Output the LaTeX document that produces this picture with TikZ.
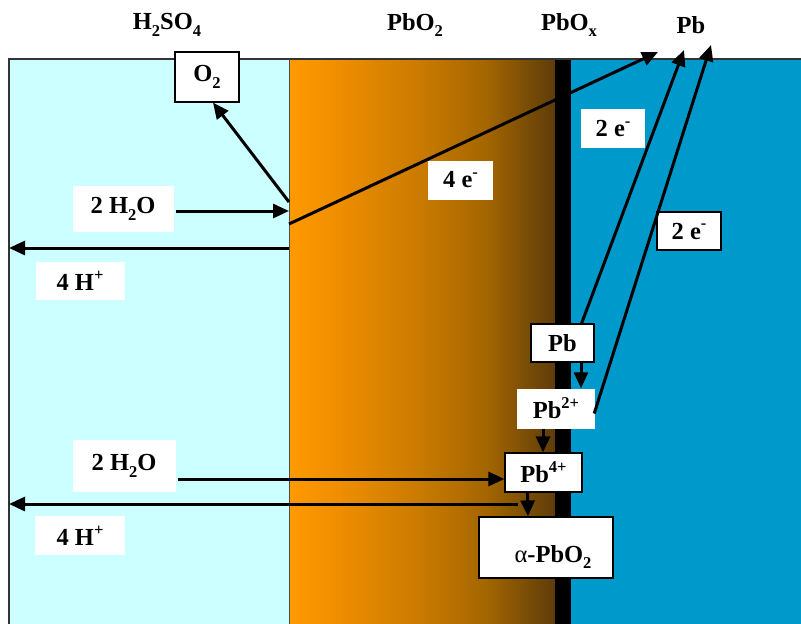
\documentclass[tikz,border=0pt]{standalone}
\usepackage{fontspec}
\setmainfont{Liberation Serif}
\usetikzlibrary{arrows.meta,calc}
\definecolor{acid}{HTML}{CCFFFF}
\definecolor{oxA}{HTML}{FF9900}
\definecolor{oxB}{HTML}{5E3C0A}
\definecolor{oxC}{HTML}{EE8E00}
\definecolor{oxD}{HTML}{C87A00}
\definecolor{oxE}{HTML}{A46600}
\definecolor{metal}{HTML}{0099CC}
\pgfdeclarehorizontalshading{oxsh}{100bp}{color(0bp)=(oxA); color(25bp)=(oxA); color(34.5bp)=(oxC); color(50bp)=(oxD); color(62bp)=(oxE); color(75bp)=(oxB); color(100bp)=(oxB)}
\newcommand{\lsub}[1]{\raisebox{-0.28em}{\fontsize{16.5}{16.5}\selectfont #1}}
\newcommand{\lsup}[1]{\raisebox{0.42em}{\fontsize{16.5}{16.5}\selectfont #1}}
\tikzset{
  lbl/.style={font=\fontsize{24.5}{28}\selectfont\bfseries, inner sep=0pt},
  wbox/.style={lbl, fill=white, minimum width=#1},
  bbox/.style={lbl, fill=white, draw=black, line width=1.2pt, minimum width=#1},
  arr/.style={line width=3pt, -{Triangle[length=16pt,width=14pt]}},
  ln/.style={line width=3pt}
}
\begin{document}
\begin{tikzpicture}[x=1pt,y=-1pt]
\useasboundingbox (0,0) rectangle (801,624);
\fill[white] (0,0) rectangle (801,624);
% regions
\fill[acid] (9,59) rectangle (289,624);
\shade[shading=oxsh] (289,59) rectangle (555,624);
\fill[black] (555,59) rectangle (571,624);
\fill[metal] (571,59) rectangle (801,624);
\draw[line width=1.2pt,black!80] (9,624) -- (9,59) -- (801,59);
\draw[line width=1pt,black!70] (289,59) -- (289,624);
% titles
\node[lbl] (tacid) at (167,25) {H\lsub{2}SO\lsub{4}};
\node[lbl] (tox) at (415,25) {PbO\lsub{2}};
\node[lbl] (tpbox) at (569,25) {PbO\lsub{x}};
\node[lbl] (tpb) at (691,25) {Pb};
% boxes
\node[bbox=64pt, minimum height=50pt] (o2) at (207,77) {O\lsub{2}};
\node[wbox=101pt, minimum height=46pt] (w1) at (123,209) {2 H\lsub{2}O};
\node[wbox=89pt, minimum height=38pt] (h1) at (80,281) {4 H\lsup{+}};
\node[wbox=65pt, minimum height=39pt] (e4) at (460.5,180) {4 e\lsup{-}};
\node[wbox=64pt, minimum height=39pt] (e2a) at (613,128.5) {2 e\lsup{-}};
\node[bbox=64pt, minimum height=38pt] (e2b) at (689,231) {2 e\lsup{-}};
\node[bbox=63pt, minimum height=38pt] (pb) at (562.5,343) {Pb};
\node[wbox=78pt, minimum height=40pt] (pb2) at (556,408.5) {Pb\lsup{2+}};
\node[bbox=77pt, minimum height=39pt] (pb4) at (543.5,472.5) {Pb\lsup{4+}};
\node[bbox=134pt, minimum height=61pt] (apb) at (546,547.5) {};
\node[lbl] (apbt) at (553,557) {{\mdseries α}-PbO\lsub{2}};
\node[wbox=103pt, minimum height=52pt] (w2) at (124,466) {2 H\lsub{2}O};
\node[wbox=90pt, minimum height=39pt] (h2) at (80,535.5) {4 H\lsup{+}};
% coordinates
\coordinate (s1) at (289,202);
\coordinate (s2) at (289,211);
\coordinate (s3) at (289,224);
\coordinate (s4) at (289,248);
\coordinate (t3) at (658,52);
\coordinate (t4) at (9,248);
\coordinate (ta) at (684,50);
\coordinate (tb) at (711,45);
\coordinate (s5) at (518,504);
\coordinate (t5) at (9,504);
% connectors
\draw[arr] (s1) -- ($(o2.south)+(6,0)$);
\draw[arr] ($(w1.east)+(2,2)$) -- (s2);
\draw[arr] (s3) -- (t3);
\draw[arr] (s4) -- (t4);
\draw[arr] ($(pb.north east)+(-13,0)$) -- (ta);
\draw[arr] ($(pb2.east)+(-1,5)$) -- (tb);
\draw[arr] ($(pb.south)+(18.5,0)$) -- ($(pb2.north)+(25,0)$);
\draw[arr] ($(pb2.south)+(-13,0)$) -- ($(pb4.north)+(-0.5,0)$);
\draw[arr] ($(pb4.south)+(-16,0)$) -- ($(apb.north)+(-18,0)$);
\draw[arr] ($(w2.east)+(2,13)$) -- ($(pb4.west)+(0,6.5)$);
\draw[arr] (s5) -- (t5);
\end{tikzpicture}
\end{document}
